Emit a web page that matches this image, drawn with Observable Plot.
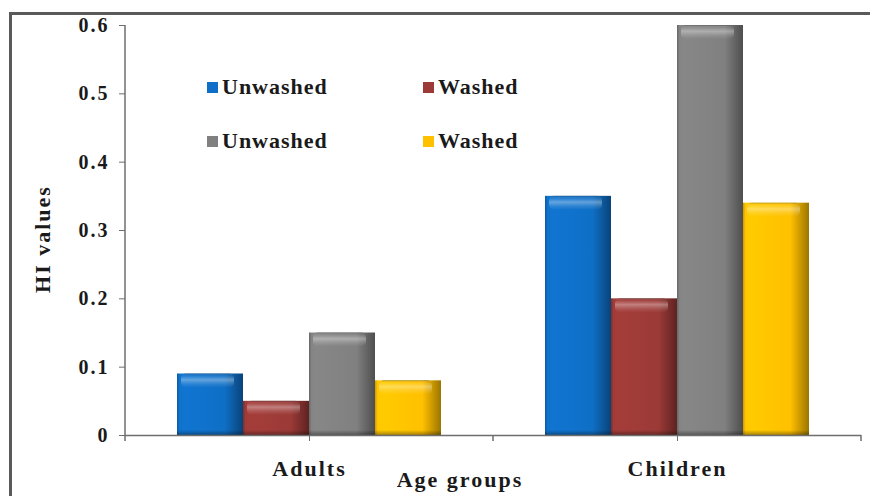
<!DOCTYPE html>
<html><head><meta charset="utf-8">
<script src="https://cdn.jsdelivr.net/npm/d3@7"></script>
<script src="https://cdn.jsdelivr.net/npm/@observablehq/plot@0.6"></script>
<style>
html,body{margin:0;padding:0;background:#fff;overflow:hidden;}
#wrap{position:relative;width:870px;height:496px;font-family:"Liberation Serif","Times New Roman",serif;overflow:hidden;}
#border{position:absolute;left:9px;top:12px;width:900px;height:600px;border-top:3px solid #5a5a5a;border-left:3px solid #5a5a5a;}
#chart{position:absolute;left:0;top:0;}
#legend{position:absolute;left:207px;top:76px;display:grid;grid-template-columns:216px auto;row-gap:32px;}
.item{display:flex;align-items:center;height:22px;font-weight:bold;font-size:22px;letter-spacing:1px;color:#1a1a1a;white-space:nowrap;}
.sw{width:11px;height:11px;margin-right:4px;flex:none;}
</style></head>
<body><div id="wrap"><div id="border"></div><div id="chart"></div><div id="legend"></div></div>
<script>
const groups = ["Adults", "Children"];
const seriesKeys = ["s1", "s2", "s3", "s4"];
const seriesLabels = ["Unwashed", "Washed", "Unwashed", "Washed"];
const seriesColors = ["#0f6fc6", "#9b3a37", "#808080", "#ffc000"];
const adultsValues = [0.09, 0.05, 0.15, 0.08];
const childrenValues = [0.35, 0.20, 0.60, 0.34];
const yTicks = [0, 0.1, 0.2, 0.3, 0.4, 0.5, 0.6];
const yLabel = "HI values";
const xLabel = "Age groups";

const valuesByGroup = {Adults: adultsValues, Children: childrenValues};
const data = groups.flatMap(g => seriesKeys.map((k, i) => ({group: g, key: k, value: valuesByGroup[g][i]})));

const axisColor = "#6e6e6e";
const chart = Plot.plot({
  width: 870, height: 496,
  marginLeft: 125, marginRight: 9, marginTop: 25, marginBottom: 61,
  style: {fontFamily: "'Liberation Serif','Times New Roman',serif", fontWeight: "bold", fontSize: "20px", color: "#1a1a1a", background: "transparent", overflow: "visible", letterSpacing: "2px"},
  fx: {domain: groups, padding: 0, label: null},
  x: {domain: seriesKeys, paddingInner: 0, paddingOuter: 0.767, axis: null},
  y: {domain: [0, 0.6], label: null},
  color: {domain: seriesKeys, range: seriesKeys.map(k => `url(#base-${k})`)},
  marks: [
    Plot.barY(data, {fx: "group", x: "key", y: "value", fill: "key"}),
    Plot.barY(data, {fx: "group", x: "key", y1: "value", y2: "value", insetBottom: -14, insetLeft: 4, insetRight: 9, rx: 5, fill: "url(#hl)"}),
    Plot.barY(data, {fx: "group", x: "key", y1: 0, y2: 0, insetTop: -5, fill: "url(#bot)"}),
    Plot.ruleY([0], {stroke: axisColor, strokeWidth: 1.5}),
    Plot.axisY({ticks: yTicks, tickFormat: d => String(d), tickSize: 6, tickPadding: 10, stroke: axisColor, fontSize: 20, label: null}),
    Plot.axisFx({anchor: "bottom", tickSize: 6, tickPadding: 19, stroke: axisColor, fontSize: 22, label: null})
  ]
});
document.getElementById("chart").appendChild(chart);

// gradients for the bevelled bars
const svg = d3.select(chart);
const defs = svg.insert("defs", ":first-child");
seriesKeys.forEach((k, i) => {
  const c = d3.color(seriesColors[i]);
  const g = defs.append("linearGradient").attr("id", `base-${k}`).attr("x1", 0).attr("y1", 0).attr("x2", 1).attr("y2", 0);
  [[0, c.darker(0.6)], [0.04, c.brighter(0.1)], [0.12, c.brighter(0.15)], [0.72, c], [0.86, c.darker(0.6)], [1, c.darker(1.4)]]
    .forEach(([o, col]) => g.append("stop").attr("offset", o).attr("stop-color", col.formatHex()));
});
const hl = defs.append("linearGradient").attr("id", "hl").attr("x1", 0).attr("y1", 0).attr("x2", 0).attr("y2", 1);
[[0, "rgba(0,0,0,0.35)"], [0.15, "rgba(255,255,255,0.05)"], [0.45, "rgba(255,255,255,0.35)"], [0.75, "rgba(255,255,255,0.12)"], [1, "rgba(255,255,255,0)"]]
  .forEach(([o, col]) => hl.append("stop").attr("offset", o).attr("stop-color", col));
const bot = defs.append("linearGradient").attr("id", "bot").attr("x1", 0).attr("y1", 0).attr("x2", 0).attr("y2", 1);
[[0, "rgba(0,0,0,0)"], [1, "rgba(0,0,0,0.35)"]].forEach(([o, col]) => bot.append("stop").attr("offset", o).attr("stop-color", col));

// y-axis line and category boundary ticks, from the chart's own scales
const fx = chart.scale("fx"), y = chart.scale("y");
const y0 = y.apply(0), yTop = y.apply(d3.max(yTicks));
const left = fx.apply(groups[0]);
svg.append("line").attr("x1", left).attr("x2", left).attr("y1", yTop).attr("y2", y0).attr("stroke", axisColor).attr("stroke-width", 1.5);
const bounds = groups.map(g => fx.apply(g)).concat([fx.apply(groups[groups.length - 1]) + fx.bandwidth]);
bounds.forEach(b => svg.append("line").attr("x1", b).attr("x2", b).attr("y1", y0).attr("y2", y0 + 6).attr("stroke", axisColor).attr("stroke-width", 1.5));
// axis titles
svg.append("text").attr("x", (left + bounds[bounds.length - 1]) / 2 - 33).attr("y", 487)
  .attr("text-anchor", "middle").attr("font-size", 22).text(xLabel);
svg.append("text").attr("transform", `translate(50,${(yTop + y0) / 2 + 9}) rotate(-90)`)
  .attr("text-anchor", "middle").attr("font-size", 22).text(yLabel);

// legend
const legend = d3.select("#legend");
seriesKeys.forEach((k, i) => {
  const it = legend.append("div").attr("class", "item");
  it.append("div").attr("class", "sw").style("background", seriesColors[i]);
  it.append("span").text(seriesLabels[i]);
});
</script>
</body></html>
